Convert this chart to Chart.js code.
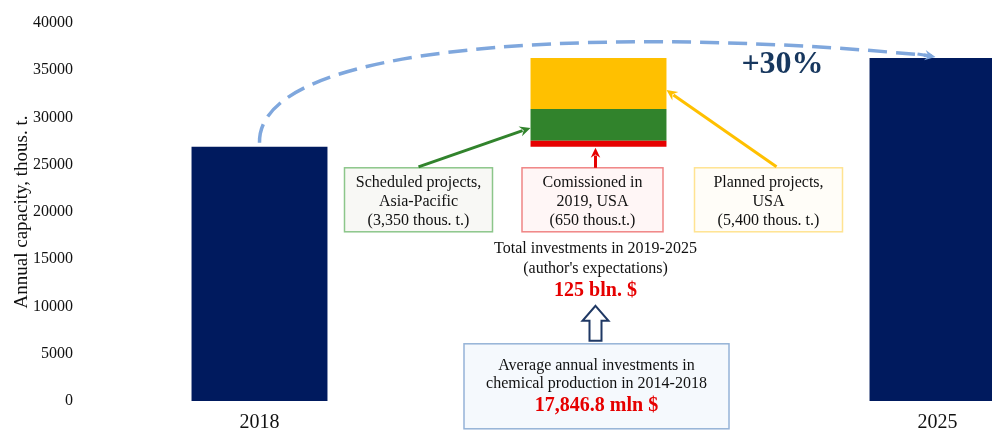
<!DOCTYPE html>
<html>
<head>
<meta charset="utf-8">
<script src="https://cdn.jsdelivr.net/npm/chart.js@4"></script>
<style>
  html, body { margin: 0; padding: 0; background: #fff; overflow: hidden; }
  #wrap { position: absolute; left: 0; top: 0; width: 1107px; height: 432px; }
</style>
</head>
<body>
<div id="wrap"><canvas id="chart" width="1107" height="432"></canvas></div>
<script>
"use strict"

// data
const years = ["2018", "", "2025"];
const capacityTotals = [26900, null, 36300];   // thous. t.
const commissioned2019USA = 650;
const scheduledAsiaPacific = 3350;
const plannedUSA = 5400;
const yTicks = [0, 5000, 10000, 15000, 20000, 25000, 30000, 35000, 40000];

const serif = "'Liberation Serif', 'Times New Roman', serif";
const navy = "#001a5e";

// floating pieces of the middle column, stacked on top of 2018
const base = capacityTotals[0];
const redRange = [base, base + commissioned2019USA];
const greenRange = [redRange[1], redRange[1] + scheduledAsiaPacific];
const yellowRange = [greenRange[1], greenRange[1] + plannedUSA];

function drawArrow(ctx, x1, y1, x2, y2, color, width, head) {
    const ang = Math.atan2(y2 - y1, x2 - x1);
    ctx.save();
    ctx.strokeStyle = color;
    ctx.fillStyle = color;
    ctx.lineWidth = width;
    ctx.beginPath();
    ctx.moveTo(x1, y1);
    ctx.lineTo(x2 - Math.cos(ang) * head * 0.7, y2 - Math.sin(ang) * head * 0.7);
    ctx.stroke();
    ctx.beginPath();
    ctx.moveTo(x2, y2);
    ctx.lineTo(x2 - Math.cos(ang - 0.45) * head, y2 - Math.sin(ang - 0.45) * head);
    ctx.lineTo(x2 - Math.cos(ang) * head * 0.6, y2 - Math.sin(ang) * head * 0.6);
    ctx.lineTo(x2 - Math.cos(ang + 0.45) * head, y2 - Math.sin(ang + 0.45) * head);
    ctx.closePath();
    ctx.fill();
    ctx.restore();
}

function drawBox(ctx, cx, top, w, h, fill, stroke, lines, lineYs) {
    ctx.save();
    ctx.fillStyle = fill;
    ctx.strokeStyle = stroke;
    ctx.lineWidth = 1.5;
    ctx.fillRect(cx - w / 2, top, w, h);
    ctx.strokeRect(cx - w / 2, top, w, h);
    ctx.textAlign = "center";
    ctx.textBaseline = "middle";
    for (let i = 0; i < lines.length; i++) {
        ctx.fillStyle = lines[i].color || "#111";
        ctx.font = lines[i].font || ("16px " + serif);
        ctx.fillText(lines[i].text, cx, top + lineYs[i]);
    }
    ctx.restore();
}

const notes = {
    id: "notes",
    afterDraw(chart) {
        const ctx = chart.ctx;
        const x = chart.scales.x;
        const y = chart.scales.y;
        const x0 = x.getPixelForValue(0);
        const x1 = x.getPixelForValue(1);
        const x2 = x.getPixelForValue(2);
        const half = 68;
        const yBase = y.getPixelForValue(base);
        const boxTop = yBase + 21;

        // dashed growth arc from 2018 to 2025
        const sy = y.getPixelForValue(capacityTotals[0]) - 4;
        const ey = y.getPixelForValue(capacityTotals[2]) - 1;
        const c1x = x0 - 2, c1y = y.getPixelForValue(39000);
        const c2x = x0 + 400, c2y = y.getPixelForValue(39400);
        ctx.save();
        ctx.strokeStyle = "#7fa7dd";
        ctx.lineWidth = 3.5;
        ctx.setLineDash([19, 9]);
        ctx.beginPath();
        ctx.moveTo(x0, sy);
        ctx.bezierCurveTo(c1x, c1y, c2x, c2y, x2 - 6, ey - 1);
        ctx.stroke();
        ctx.restore();
        drawArrow(ctx, x2 - 20, ey - 3, x2 - 2, ey, "#7fa7dd", 3, 12);

        // +30%
        ctx.save();
        ctx.fillStyle = "#17375e";
        ctx.font = "bold 32px " + serif;
        ctx.textAlign = "center";
        ctx.textBaseline = "middle";
        ctx.fillText("+30%", x2 - 155, y.getPixelForValue(35600));
        ctx.restore();

        // labels for the stacked pieces
        const lineYs = [15, 34, 53];
        drawBox(ctx, x1 - 180, boxTop, 148, 64, "#f8f8f5", "#8cc68a", [
            { text: "Scheduled projects," },
            { text: "Asia-Pacific" },
            { text: "(3,350 thous. t.)" }
        ], lineYs);
        drawBox(ctx, x1 - 6, boxTop, 141, 64, "#fff6f6", "#f08585", [
            { text: "Comissioned in" },
            { text: "2019, USA" },
            { text: "(650 thous.t.)" }
        ], lineYs);
        drawBox(ctx, x1 + 170, boxTop, 148, 64, "#fffdf8", "#ffe391", [
            { text: "Planned projects," },
            { text: "USA" },
            { text: "(5,400 thous. t.)" }
        ], lineYs);

        drawArrow(ctx, x1 - 180, boxTop - 1, x1 - half, y.getPixelForValue(28900), "#31832c", 3, 12);
        drawArrow(ctx, x1 - 3, boxTop, x1 - 3, yBase + 1, "#e60000", 3, 11);
        drawArrow(ctx, x1 + 178, boxTop - 1, x1 + half, y.getPixelForValue(32900), "#ffc000", 3, 12);

        // investments
        const tx = x1 - 3;
        ctx.save();
        ctx.textAlign = "center";
        ctx.textBaseline = "middle";
        ctx.fillStyle = "#111";
        ctx.font = "16px " + serif;
        ctx.fillText("Total investments in 2019-2025", tx, boxTop + 81);
        ctx.fillText("(author's expectations)", tx, boxTop + 101);
        ctx.fillStyle = "#e60000";
        ctx.font = "bold 20px " + serif;
        ctx.fillText("125 bln. $", tx, boxTop + 123);

        // hollow up arrow
        const aTop = boxTop + 138;
        ctx.strokeStyle = "#1f3864";
        ctx.fillStyle = "#fff";
        ctx.lineWidth = 2;
        ctx.beginPath();
        ctx.moveTo(tx, aTop);
        ctx.lineTo(tx + 13, aTop + 15);
        ctx.lineTo(tx + 6, aTop + 15);
        ctx.lineTo(tx + 6, aTop + 35);
        ctx.lineTo(tx - 6, aTop + 35);
        ctx.lineTo(tx - 6, aTop + 15);
        ctx.lineTo(tx - 13, aTop + 15);
        ctx.closePath();
        ctx.fill();
        ctx.stroke();
        ctx.restore();

        drawBox(ctx, x1 - 2, boxTop + 176, 265, 85, "#f5f9fd", "#95b3d7", [
            { text: "Average annual investments in" },
            { text: "chemical production in 2014-2018" },
            { text: "17,846.8 mln $", color: "#e60000", font: "bold 20px " + serif }
        ], [22, 40, 62]);
    }
};

const data = {
    labels: years,
    datasets: [
        {
            label: "capacity",
            data: capacityTotals,
            backgroundColor: navy,
            borderColor: "#8faadc",
            borderWidth: { top: 0, left: 0, right: 0, bottom: 1 },
        },
        {
            label: "commissioned 2019 USA",
            data: [null, redRange, null],
            backgroundColor: "#e60000",
        },
        {
            label: "scheduled Asia-Pacific",
            data: [null, greenRange, null],
            backgroundColor: "#31832c",
        },
        {
            label: "planned USA",
            data: [null, yellowRange, null],
            backgroundColor: "#ffc000",
        },
    ],
};

const config = {
    type: "bar",
    data: data,
    plugins: [notes],
    options: {
        responsive: false,
        animation: false,
        layout: { padding: { top: 23, right: 0, left: 0, bottom: 0 } },
        categoryPercentage: 1,
        barPercentage: 0.401,
        plugins: {
            legend: { display: false },
            tooltip: { enabled: false },
        },
        scales: {
            x: {
                stacked: true,
                grid: { display: false, drawTicks: false },
                border: { display: false },
                ticks: { color: "#111", font: { family: serif, size: 20 }, padding: 10 },
                afterFit(scale) { scale.height = 31; },
            },
            y: {
                stacked: false,
                min: 0,
                max: 40000,
                grid: { display: false, drawTicks: false },
                border: { display: false },
                afterBuildTicks(scale) { scale.ticks = yTicks.map(v => ({ value: v })); },
                afterFit(scale) {
                    scale.width = 90;
                    scale.paddingTop = 0;
                    scale.paddingBottom = 0;
                },
                ticks: {
                    color: "#111",
                    padding: 17,
                    font: { family: serif, size: 16 },
                    callback: (v) => String(v),
                },
                title: {
                    display: true,
                    text: "Annual capacity, thous. t.",
                    color: "#111",
                    font: { family: serif, size: 19 },
                    padding: { top: 11, bottom: 0 },
                },
            },
        },
    },
};

const myChart = new Chart(document.getElementById("chart"), config);
</script>
</body>
</html>
